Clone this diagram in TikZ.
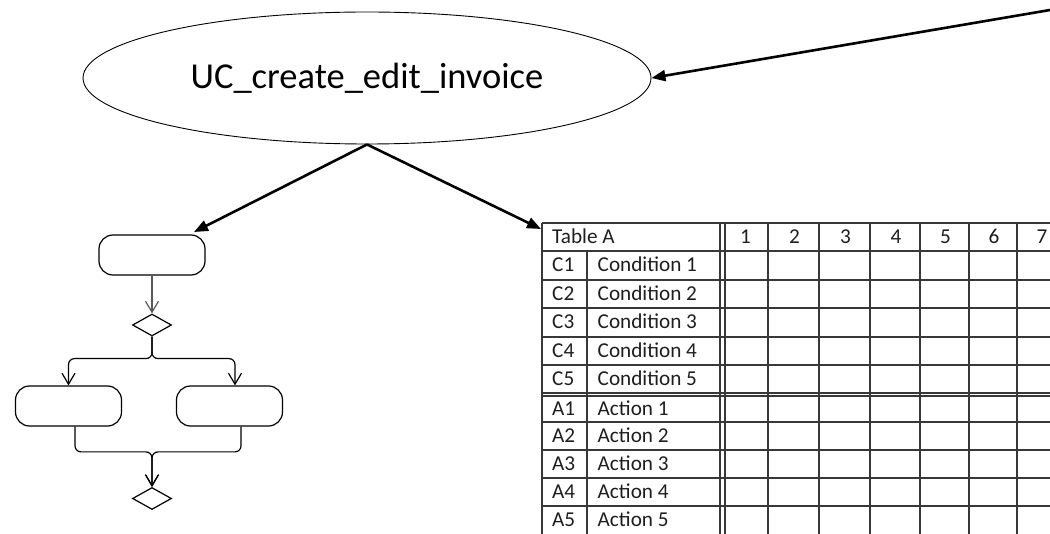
\documentclass[tikz,border=0pt]{standalone}
\usepackage{fontspec}
\setmainfont{Carlito}
\usetikzlibrary{shapes.geometric,arrows.meta,calc}
\definecolor{gridcol}{HTML}{383838}
\definecolor{txtcol}{HTML}{1E1E1E}
\begin{document}
\begin{tikzpicture}[x=1pt,y=-1pt,
  usecase/.style={ellipse,draw,line width=0.9pt,minimum width=568pt,minimum height=132pt,inner sep=0pt,font=\fontsize{36.5}{40}\selectfont},
  bigarrow/.style={line width=2.6pt,-{Triangle[length=14pt,width=11pt]}},
  actbox/.style={draw,line width=1.2pt,rounded corners=14pt,minimum width=106pt,minimum height=40pt,inner sep=0pt},
  decision/.style={diamond,draw,line width=1.2pt,minimum width=39pt,minimum height=22pt,inner sep=0pt},
  flow/.style={line width=1.2pt,rounded corners=6pt,-{Straight Barb[length=11pt,width=13pt,line width=1.2pt]}},
  grid/.style={draw=gridcol,line width=1.4pt},
  cell/.style={anchor=base west,inner sep=0pt,text=txtcol,font=\fontsize{21.2}{24}\selectfont},
  numcell/.style={anchor=base,inner sep=0pt,text=txtcol,font=\fontsize{21.2}{24}\selectfont}]
\useasboundingbox (0,0) rectangle (1050,534);

% use case
\node[usecase] (uc) at (367,78) {UC\_create\_edit\_invoice};
\coordinate (ext) at (1050,10);
\draw[bigarrow] (ext) -- (uc.east);

% activity diagram
\node[actbox] (a0) at (152,255) {};
\node[decision] (d1) at (152,325) {};
\node[actbox] (a1) at (68.5,406) {};
\node[actbox] (a2) at (229.5,406) {};
\node[decision] (d2) at (152,498.5) {};
\coordinate (a0in) at (194,232);

\draw[flow,draw=black!65] (a0.south) -- (d1.north);
\draw[flow] (d1.south) -- ++(0,22) -| (a1.north);
\draw[flow] (d1.south) -- ++(0,22) -| ($(a2.north)+(5.5,0)$);
\draw[flow] ($(a1.south)+(6.5,0)$) |- ($(d2.north)+(0,-35)$) -- (d2.north);
\draw[flow] ($(a2.south)+(11.5,0)$) |- ($(d2.north)+(0,-35)$) -- (d2.north);

% decision table
\node[anchor=north west,inner sep=0pt,minimum width=508pt,minimum height=311pt] (tbl) at (542,223) {};
\coordinate (tin) at (541,229);
\foreach \y in {223,251,280,308,337,365,393,396,422,450,478,506}
  \draw[grid] (542,\y) -- (1050,\y);
\foreach \x in {542,720,725,768,819,870,920,969,1017}
  \draw[grid] (\x,223) -- (\x,534);
\draw[grid] (587,251) -- (587,534);

\node[cell] (hdr) at (552,243.5) {Table A};
\foreach \n/\xc in {1/745.5,2/794.5,3/845.5,4/896,5/945.5,6/994,7/1042}
  \node[numcell] (col\n) at (\xc,243.5) {\n};
\foreach \n/\yc in {1/265.5,2/294,3/322.5,4/351,5/379}{
  \node[cell] (cid\n) at (552,\yc+6.5) {C\n};
  \node[cell] (cname\n) at (597.5,\yc+6.5) {Condition \n};
}
\foreach \n/\yc in {1/409,2/436,3/464,4/492,5/520}{
  \node[cell] (aid\n) at (552,\yc+6.5) {A\n};
  \node[cell] (aname\n) at (597.5,\yc+6.5) {Action \n};
}

% connectors from use case
\draw[bigarrow] (uc.south) -- (a0in);
\draw[bigarrow] (uc.south) -- (tin);
\end{tikzpicture}
\end{document}
